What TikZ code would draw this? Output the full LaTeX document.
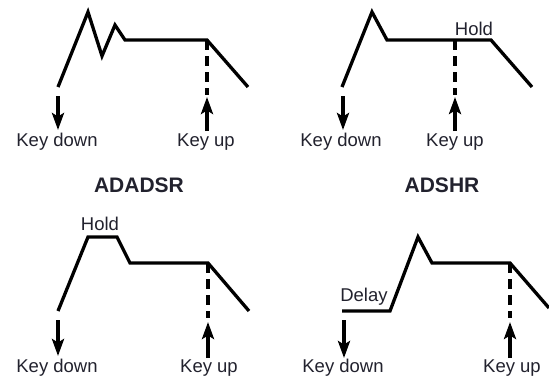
\documentclass[tikz,border=0pt]{standalone}
\usepackage{fontspec}
\setmainfont{Liberation Sans}
\usetikzlibrary{arrows.meta}
\definecolor{txt}{HTML}{22222E}
\tikzset{
  env/.style={line width=3.3pt, line join=miter, line cap=butt, black},
  keydash/.style={line width=3.5pt, dash pattern=on 10pt off 6pt, black},
  keyarrow/.style={line width=3.6pt, black, -{Stealth[length=17pt,width=12pt,inset=3.5pt]}},
  lbl/.style={inner sep=0pt, text=txt, font=\fontsize{18.5}{20}\selectfont},
  ttl/.style={inner sep=0pt, text=txt, font=\fontsize{21}{22}\selectfont\bfseries}
}
\begin{document}
\begin{tikzpicture}[x=1pt,y=-1pt]
\useasboundingbox (0,0) rectangle (549,383);
\fill[white] (0,0) rectangle (549,383);
% ---------- Panel 1: ADADSR ----------
\coordinate (a1) at (58,87);
\coordinate (a2) at (88,12);
\coordinate (a3) at (102,56);
\coordinate (a4) at (115,25);
\coordinate (a5) at (125,40);
\coordinate (a6) at (207,40);
\coordinate (a7) at (248,87);
\draw[env] (a1) -- (a2) -- (a3) -- (a4) -- (a5) -- (a6) -- (a7);
\coordinate (a6b) at (207,95);
\draw[keydash] (a6) -- (a6b);
\coordinate (kd1s) at (58,96);
\coordinate (kd1e) at (58,130);
\draw[keyarrow] (kd1s) -- (kd1e);
\coordinate (ku1s) at (207,131);
\coordinate (ku1e) at (207,97);
\draw[keyarrow] (ku1s) -- (ku1e);
\node[lbl] (kdt1) at (57,142) {Key down};
\node[lbl] (kut1) at (206,142) {Key up};
\node[ttl] (t1) at (139,185) {ADADSR};
% ---------- Panel 2: ADSHR ----------
\coordinate (b1) at (342,87);
\coordinate (b2) at (372,12);
\coordinate (b3) at (387,40);
\coordinate (b4) at (455,40);
\coordinate (b5) at (491,40);
\coordinate (b6) at (532,87);
\draw[env] (b1) -- (b2) -- (b3) -- (b4) -- (b5) -- (b6);
\coordinate (b4b) at (455,95);
\draw[keydash] (b4) -- (b4b);
\coordinate (kd2s) at (343,96);
\coordinate (kd2e) at (343,130);
\draw[keyarrow] (kd2s) -- (kd2e);
\coordinate (ku2s) at (455,131);
\coordinate (ku2e) at (455,97);
\draw[keyarrow] (ku2s) -- (ku2e);
\node[lbl] (hold2) at (474,29) {Hold};
\node[lbl] (kdt2) at (341,142) {Key down};
\node[lbl] (kut2) at (455,142) {Key up};
\node[ttl] (t2) at (442,185) {ADSHR};
% ---------- Panel 3: AHDSR ----------
\coordinate (c1) at (58,311);
\coordinate (c2) at (88,237);
\coordinate (c3) at (117,237);
\coordinate (c4) at (130,263);
\coordinate (c5) at (208,263);
\coordinate (c6) at (249,311);
\draw[env] (c1) -- (c2) -- (c3) -- (c4) -- (c5) -- (c6);
\coordinate (c5b) at (208,318);
\draw[keydash] (c5) -- (c5b);
\coordinate (kd3s) at (58,320);
\coordinate (kd3e) at (58,356);
\draw[keyarrow] (kd3s) -- (kd3e);
\coordinate (ku3s) at (208,358);
\coordinate (ku3e) at (208,322);
\draw[keyarrow] (ku3s) -- (ku3e);
\node[lbl] (hold3) at (100,224) {Hold};
\node[lbl] (kdt3) at (57,368) {Key down};
\node[lbl] (kut3) at (209,368) {Key up};
% ---------- Panel 4: DADSR ----------
\coordinate (d1) at (342,311);
\coordinate (d2) at (390,311);
\coordinate (d3) at (418,237);
\coordinate (d4) at (432,263);
\coordinate (d5) at (510,263);
\coordinate (d6) at (549,308);
\draw[env] (d1) -- (d2) -- (d3) -- (d4) -- (d5) -- (d6);
\coordinate (d5b) at (510,318);
\draw[keydash] (d5) -- (d5b);
\coordinate (kd4s) at (344,320);
\coordinate (kd4e) at (344,358);
\draw[keyarrow] (kd4s) -- (kd4e);
\coordinate (ku4s) at (510,358);
\coordinate (ku4e) at (510,322);
\draw[keyarrow] (ku4s) -- (ku4e);
\node[lbl] (delay4) at (364,297) {Delay};
\node[lbl] (kdt4) at (343,368) {Key down};
\node[lbl] (kut4) at (512,368) {Key up};
\end{tikzpicture}
\end{document}
